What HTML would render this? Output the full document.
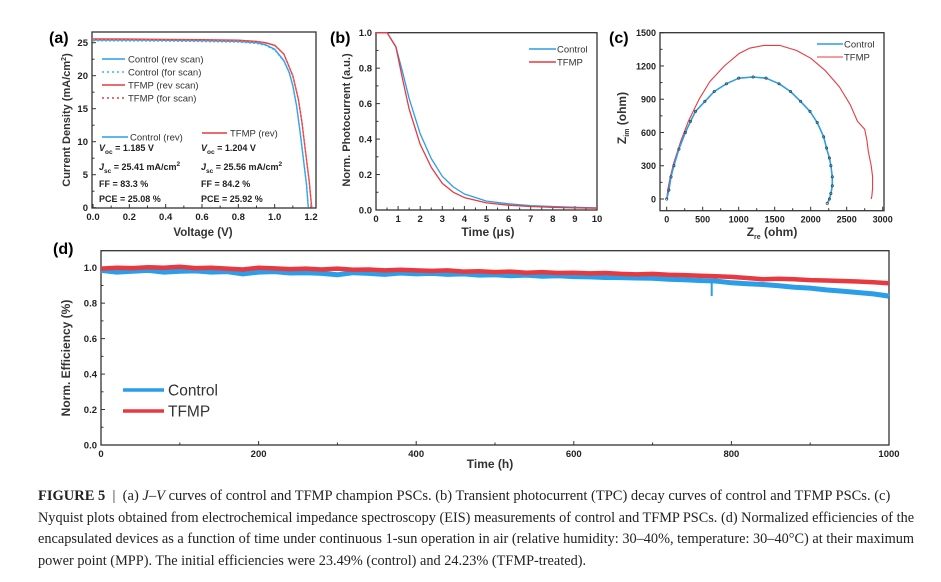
<!DOCTYPE html>
<html><head><meta charset="utf-8"><style>
body{margin:0;background:#fff;width:941px;height:582px;overflow:hidden;font-family:"Liberation Sans",Arial,sans-serif}
#cap{position:absolute;left:38px;top:486px;width:876px;font-family:"Liberation Serif",serif;font-size:14.5px;color:#222}
#cap div{white-space:nowrap;height:21.5px;line-height:21.5px;transform-origin:0 50%}
</style></head><body>
<svg id="fig" width="941" height="480" style="position:absolute;left:0;top:0" font-family="Liberation Sans, Arial, sans-serif"></svg>
<div id="cap">
<div><b>FIGURE 5</b> &nbsp;|&nbsp; (a) <i>J–V</i> curves of control and TFMP champion PSCs. (b) Transient photocurrent (TPC) decay curves of control and TFMP PSCs. (c)</div>
<div>Nyquist plots obtained from electrochemical impedance spectroscopy (EIS) measurements of control and TFMP PSCs. (d) Normalized efficiencies of the</div>
<div>encapsulated devices as a function of time under continuous 1-sun operation in air (relative humidity: 30–40%, temperature: 30–40°C) at their maximum</div>
<div class="last">power point (MPP). The initial efficiencies were 23.49% (control) and 24.23% (TFMP-treated).</div>
</div>
<script>
// (a) J-V
const jvV_ctrl=[0,0.2,0.4,0.6,0.8,0.9,0.95,1.0,1.05,1.08,1.1,1.12,1.14,1.16,1.175,1.185];
const jvJ_ctrl=[25.41,25.39,25.36,25.3,25.2,25.0,24.7,24.0,22.3,20.5,18.5,15.5,11.5,7,3.5,0];
const jvV_tfmp=[0,0.2,0.4,0.6,0.8,0.9,0.95,1.0,1.05,1.1,1.13,1.15,1.17,1.19,1.204];
const jvJ_tfmp=[25.56,25.54,25.5,25.46,25.38,25.2,25.0,24.6,23.3,20,16.5,13,8.5,4,0];
// (b) TPC
const tpcT=[0,0.5,0.9,1.2,1.5,2,2.5,3,3.5,4,5,6,7,8,9,10];
const tpc_ctrl=[1,1,0.92,0.78,0.63,0.43,0.29,0.19,0.13,0.09,0.05,0.035,0.025,0.02,0.015,0.012];
const tpc_tfmp=[1,1,0.92,0.74,0.57,0.37,0.24,0.15,0.1,0.07,0.04,0.027,0.02,0.015,0.012,0.01];
// (c) EIS
const eisRe_ctrl=[0,30,60,100,170,260,330,400,530,660,830,1000,1200,1380,1560,1720,1860,1990,2090,2180,2220,2260,2280,2300,2300,2280,2260,2230];
const eisIm_ctrl=[0,80,200,300,450,600,700,790,880,970,1040,1090,1100,1090,1040,970,880,790,690,560,460,370,300,200,120,50,0,-40];
const eisRe_tfmp=[0,20,50,100,200,300,450,600,800,1000,1150,1350,1570,1800,2000,2200,2400,2550,2650,2750,2780,2800,2840,2860,2860,2850,2840];
const eisIm_tfmp=[0,100,200,330,530,700,900,1060,1200,1310,1360,1385,1385,1340,1270,1160,1010,850,700,630,530,430,300,200,100,30,0];
// (d) stability, every 20 h
const stab_ctrl=[0.985,0.975,0.98,0.985,0.975,0.98,0.982,0.975,0.978,0.965,0.975,0.978,0.97,0.972,0.968,0.96,0.972,0.968,0.962,0.97,0.965,0.968,0.962,0.965,0.958,0.96,0.955,0.958,0.952,0.955,0.95,0.948,0.945,0.944,0.942,0.94,0.935,0.932,0.928,0.925,0.915,0.91,0.905,0.898,0.89,0.885,0.875,0.868,0.86,0.852,0.84];
const stab_tfmp=[0.995,1.0,0.998,1.003,1.0,1.005,0.998,1.0,0.995,0.99,1.0,0.996,0.992,0.995,0.99,0.995,0.988,0.99,0.985,0.988,0.985,0.982,0.985,0.978,0.98,0.975,0.978,0.972,0.975,0.97,0.972,0.968,0.97,0.965,0.962,0.965,0.96,0.958,0.955,0.952,0.948,0.942,0.935,0.938,0.935,0.93,0.928,0.925,0.922,0.918,0.912];
const spikeT=[775], spikeV=[0.84];

const NS="http://www.w3.org/2000/svg", svg=document.getElementById('fig');
function el(t,a,p){const e=document.createElementNS(NS,t);for(const k in a)e.setAttribute(k,a[k]);(p||svg).appendChild(e);return e;}
function txt(s,a,p){const e=el('text',a,p);e.textContent=s;return e;}
const BLUE='#2a9ee8',RED='#e8393f';
function lin(d0,d1,r0,r1){return v=>r0+(v-d0)/(d1-d0)*(r1-r0);}
function axes(g,X,Y,box,xt,yt,xfmt,yfmt,xminor,yminor,fs){
  const r=el('rect',{x:box[0],y:box[1],width:box[2]-box[0],height:box[3]-box[1],fill:'none',stroke:'#333','stroke-width':1.3},g);
  
  xt.forEach(v=>{const x=X(v);el('line',{x1:x,x2:x,y1:box[3],y2:box[3]-4,stroke:'#333'},g);
    const t=txt(xfmt(v),{x:x,y:box[3]+12,'font-size':fs,'font-weight':'bold','text-anchor':'middle',fill:'#222'},g);
    });
  xminor.forEach(v=>{const x=X(v);el('line',{x1:x,x2:x,y1:box[3],y2:box[3]-2.5,stroke:'#333'},g);});
  yt.forEach(v=>{const y=Y(v);el('line',{x1:box[0],x2:box[0]+4,y1:y,y2:y,stroke:'#333'},g);
    const t=txt(yfmt(v),{x:box[0]-4,y:y+3.5,'font-size':fs,'font-weight':'bold','text-anchor':'end',fill:'#222'},g);
    });
  yminor.forEach(v=>{const y=Y(v);el('line',{x1:box[0],x2:box[0]+2.5,y1:y,y2:y,stroke:'#333'},g);});
}
function path(g,xs,ys,X,Y,c,w,dash,name){
  const d=xs.map((v,i)=>(i?'L':'M')+X(v).toFixed(1)+','+Y(ys[i]).toFixed(1)).join('');
  const p=el('path',{d:d,fill:'none',stroke:c,'stroke-width':w,'stroke-linejoin':'round'},g);
  if(dash)p.setAttribute('stroke-dasharray',dash);
  return p;}
function mk(g,name){const e=el('g',{},g);return e;}
function legLine(g,x1,x2,y,c,w,dash,label,tx,fs,name){
  const lg=mk(g,name);
  const l=el('line',{x1:x1,x2:x2,y1:y,y2:y,stroke:c,'stroke-width':w},lg);if(dash)l.setAttribute('stroke-dasharray',dash);
  txt(label,{x:tx,y:y+fs*0.36,'font-size':fs,fill:'#333'},lg);}

// ---- (a)
{const g=mk(svg,'panel-a-jv-chart');
 const X=lin(0,1.2,93,311),Y=lin(0,25,207.7,42.7);
 axes(g,X,Y,[92,32,316,208],[0,0.2,0.4,0.6,0.8,1.0,1.2],[0,5,10,15,20,25],v=>v.toFixed(1),v=>String(v),[0.1,0.3,0.5,0.7,0.9,1.1],[2.5,7.5,12.5,17.5,22.5],9.5);
 path(g,jvV_ctrl,jvJ_ctrl,X,Y,BLUE,1.4,null,'control-rev-line');
 path(g,jvV_ctrl,jvJ_ctrl.map(v=>v*0.995),X,Y,'#3fb5ea',1.2,'2,2','control-for-line');
 path(g,jvV_tfmp,jvJ_tfmp,X,Y,RED,1.4,null,'tfmp-rev-line');
 path(g,jvV_tfmp,jvJ_tfmp.map(v=>v*0.997),X,Y,'#ef6a6a',1.2,'2,2','tfmp-for-line');
 legLine(g,102,125,59,BLUE,1.4,null,'Control (rev scan)',128,9.5,'legend-control-rev-scan');
 legLine(g,102,125,72,'#3fb5ea',1.4,'2,3','Control (for scan)',128,9.5,'legend-control-for-scan');
 legLine(g,102,125,85,RED,1.4,null,'TFMP (rev scan)',128,9.5,'legend-tfmp-rev-scan');
 legLine(g,102,125,98,RED,1.4,'2,3','TFMP (for scan)',128,9.5,'legend-tfmp-for-scan');
 legLine(g,102,128,137,BLUE,1.4,null,'Control (rev)',130,9.5,'legend-control-rev');
 legLine(g,202,227,133,RED,1.4,null,'TFMP (rev)',230,9.5,'legend-tfmp-rev');
 const st=mk(g,'jv-parameters');
 [[99,'1.185','25.41','83.3','25.08'],[201,'1.204','25.56','84.2','25.92']].forEach(c=>{
  const a={'font-size':9,'font-weight':'bold',fill:'#222'};
  let t=txt('',Object.assign({x:c[0],y:151},a),st);t.innerHTML='<tspan font-style="italic">V</tspan><tspan font-size="6.5" dy="3">oc</tspan><tspan dy="-3"> = '+c[1]+' V</tspan>';
  t=txt('',Object.assign({x:c[0],y:170},a),st);t.innerHTML='<tspan font-style="italic">J</tspan><tspan font-size="6.5" dy="3">sc</tspan><tspan dy="-3"> = '+c[2]+' mA/cm</tspan><tspan font-size="6.5" dy="-4">2</tspan>';
  txt('FF = '+c[3]+' %',Object.assign({x:c[0],y:187},a),st);
  txt('PCE = '+c[4]+' %',Object.assign({x:c[0],y:202},a),st);});
 txt('(a)',{x:49,y:43,'font-size':16,'font-weight':'bold'},g);
 txt('Voltage (V)',{x:203,y:236,'font-size':11.5,'font-weight':'bold','text-anchor':'middle',fill:'#333'},g);
 const yt=txt('',{transform:'translate(70,120) rotate(-90)','font-size':11,'font-weight':'bold','text-anchor':'middle',fill:'#333'},g);
 yt.innerHTML='Current Density (mA/cm<tspan font-size="7" dy="-4">2</tspan><tspan dy="4">)</tspan>';}

// ---- (b)
{const g=mk(svg,'panel-b-tpc-chart');
 const X=lin(0,10,376,597),Y=lin(0,1,210,32.7);
 axes(g,X,Y,[376,32.7,597,210],[0,1,2,3,4,5,6,7,8,9,10],[0,0.2,0.4,0.6,0.8,1.0],v=>String(v),v=>v.toFixed(1),[0.5,1.5,2.5,3.5,4.5,5.5,6.5,7.5,8.5,9.5],[0.1,0.3,0.5,0.7,0.9],9.5);
 path(g,tpcT,tpc_ctrl,X,Y,BLUE,1.3,null,'control-tpc-line');
 path(g,tpcT,tpc_tfmp,X,Y,RED,1.3,null,'tfmp-tpc-line');
 legLine(g,529,556,49,BLUE,1.4,null,'Control',557,9.5,'legend-control');
 legLine(g,529,556,62,RED,1.4,null,'TFMP',557,9.5,'legend-tfmp');
 txt('(b)',{x:330,y:43,'font-size':16,'font-weight':'bold'},g);
 txt('Time (μs)',{x:488,y:236,'font-size':12,'font-weight':'bold','text-anchor':'middle',fill:'#333'},g);
 txt('Norm. Photocurrent (a.u.)',{transform:'translate(350,120) rotate(-90)','font-size':11,'font-weight':'bold','text-anchor':'middle',fill:'#333'},g);}

// ---- (c)
{const g=mk(svg,'panel-c-eis-chart');
 const X=lin(0,3000,666.7,882.7),Y=lin(0,1500,199,32.7);
 axes(g,X,Y,[660,32.7,884,210.7],[0,500,1000,1500,2000,2500,3000],[0,300,600,900,1200,1500],v=>String(v),v=>String(v),[250,750,1250,1750,2250,2750],[150,450,750,1050,1350],9);
 path(g,eisRe_tfmp,eisIm_tfmp,X,Y,RED,1.1,null,'tfmp-eis-line');
 path(g,eisRe_ctrl,eisIm_ctrl,X,Y,BLUE,1.6,null,'control-eis-line');
 eisRe_ctrl.forEach((v,i)=>{const c=el('circle',{cx:X(v),cy:Y(eisIm_ctrl[i]),r:1.2,fill:'none',stroke:'#333','stroke-width':0.6},g);});
 legLine(g,817,843,44,BLUE,1.6,null,'Control',844,9.5,'legend-control');
 legLine(g,817,843,57,RED,1.1,null,'TFMP',844,9.5,'legend-tfmp');
 txt('(c)',{x:609,y:43,'font-size':16,'font-weight':'bold'},g);
 const xt=txt('',{x:772,y:236,'font-size':12,'font-weight':'bold','text-anchor':'middle',fill:'#333'},g);xt.innerHTML='Z<tspan font-size="7" dy="3">re</tspan><tspan dy="-3"> (ohm)</tspan>';
 const yt=txt('',{transform:'translate(626,118) rotate(-90)','font-size':12,'font-weight':'bold','text-anchor':'middle',fill:'#333'},g);yt.innerHTML='Z<tspan font-size="7" dy="3">im</tspan><tspan dy="-3"> (ohm)</tspan>';}

// ---- (d)
{const g=mk(svg,'panel-d-stability-chart');
 const X=lin(0,1000,101,889),Y=lin(0,1,445,267.7);
 axes(g,X,Y,[101,250.7,889,445],[0,200,400,600,800,1000],[0,0.2,0.4,0.6,0.8,1.0],v=>String(v),v=>v.toFixed(1),[100,300,500,700,900],[0.1,0.3,0.5,0.7,0.9],9.5);
 const hrs=stab_ctrl.map((v,i)=>i*20);
 path(g,hrs,stab_ctrl,X,Y,BLUE,5,null,'control-stability-line');
 path(g,hrs,stab_tfmp,X,Y,RED,4.5,null,'tfmp-stability-line');
 spikeT.forEach((t,i)=>{const l=el('line',{x1:X(t),x2:X(t),y1:Y(stab_ctrl[Math.round(t/20)]),y2:Y(spikeV[i]),stroke:BLUE,'stroke-width':2},g);});
 legLine(g,123,164,390,BLUE,3.5,null,'Control',168,15.5,'legend-control');
 legLine(g,123,164,411,RED,3.5,null,'TFMP',168,15.5,'legend-tfmp');
 txt('(d)',{x:53,y:254,'font-size':16,'font-weight':'bold'},g);
 txt('Time (h)',{x:490,y:468,'font-size':12,'font-weight':'bold','text-anchor':'middle',fill:'#333'},g);
 txt('Norm. Efficiency (%)',{transform:'translate(70,358) rotate(-90)','font-size':12,'font-weight':'bold','text-anchor':'middle',fill:'#333'},g);}

// caption: condense full lines to the column width; last line uses line-3 scale
{const lines=[...document.querySelectorAll('#cap div')];let s=1;
 lines.forEach((d,i)=>{if(i<lines.length-1){s=876/d.scrollWidth;}
  d.style.transform='scaleX('+s.toFixed(4)+')';});}
</script>
</body></html>
